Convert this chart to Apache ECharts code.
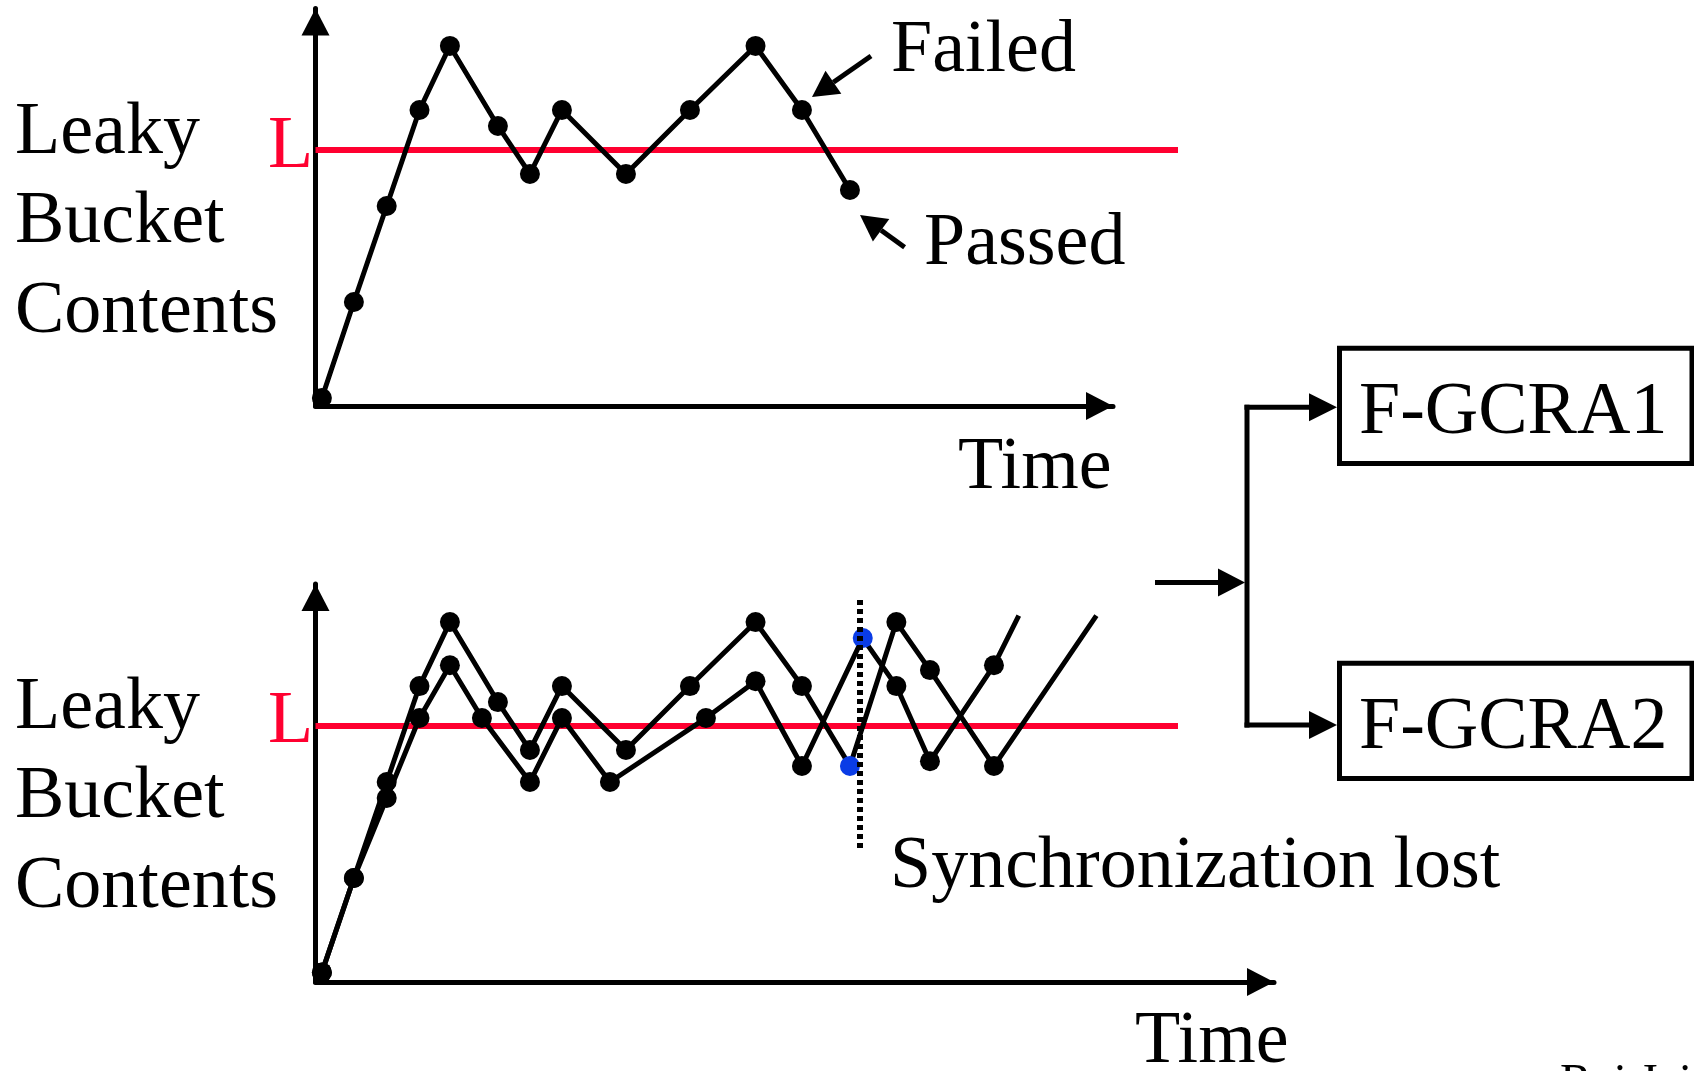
<!DOCTYPE html>
<html><head><meta charset="utf-8">
<script src="https://cdn.jsdelivr.net/npm/echarts@6/dist/echarts.min.js"></script>
<style>html,body{margin:0;padding:0;background:#fff}#c{width:1694px;height:1071px}</style>
</head><body><div id="c"></div>
<script>
// ---- Data (time units along x, bucket-content units along y) ----
const limitL = 8;                 // bucket limit L
const limitLineEnd = 53.9;        // red limit line extends to this time
// Top panel: single leaky bucket
const topTimes  = [0.4, 2.4, 4.45, 6.5, 8.4, 11.4, 13.4, 15.4, 19.4, 23.4, 27.5, 30.4, 33.4];
const topLevels = [0.25, 3.25, 6.25, 9.25, 11.25, 8.75, 7.25, 9.25, 7.25, 9.25, 11.25, 9.25, 6.75];
// Bottom panel: two buckets (F-GCRA1 / F-GCRA2)
const bucket1Times  = [0.4, 2.4, 4.45, 6.5, 8.4, 11.4, 13.4, 15.4, 19.4, 23.4, 27.5, 30.4, 33.4, 36.3, 38.4, 42.4, 48.8];
const bucket1Levels = [0.3, 3.25, 6.25, 9.25, 11.25, 8.75, 7.25, 9.25, 7.25, 9.25, 11.25, 9.25, 6.75, 11.25, 9.75, 6.75, 11.45];
const bucket2Times  = [0.4, 2.4, 4.45, 6.5, 8.4, 10.4, 13.4, 15.4, 18.4, 24.4, 27.5, 30.4, 34.2, 36.3, 38.4, 42.4, 43.95];
const bucket2Levels = [0.3, 3.25, 5.75, 8.25, 9.9, 8.25, 6.25, 8.25, 6.25, 8.25, 9.4, 6.75, 10.75, 9.25, 6.9, 9.9, 11.45];
const highlightIndex = 12;        // cell where synchronization is lost (blue)
const syncLostTime = 34.0;
const syncLostSpan = [4.19, 11.94];
const yLabelLines = ['Leaky', 'Bucket', 'Contents'];
const xAxisName = 'Time';
const boxLabels = ['F-GCRA1', 'F-GCRA2'];

// ---- Build ----
const BLACK = '#000', RED = '#ff0030', BLUE = '#0a3ce6';
const FONT = '"Liberation Serif","Times New Roman",serif';

function buildPoints(times, levels, opts) {
  opts = opts || {};
  return times.map((t, i) => {
    const item = { value: [t, levels[i]] };
    if (opts.blue === i) item.itemStyle = { color: BLUE };
    if (opts.noMarkerLast && i === times.length - 1) item.symbol = 'none';
    return item;
  });
}

function axisPair(xMax, yMax, gi, visible) {
  const common = {
    show: visible,
    axisLine: { show: true, lineStyle: { color: BLACK, width: 5 },
      symbol: ['none', 'triangle'], symbolSize: [28, 27], symbolOffset: [0, -13.5] },
    axisTick: { show: false }, axisLabel: { show: false }, splitLine: { show: false }
  };
  return {
    x: Object.assign({ type: 'value', gridIndex: gi, min: 0, max: xMax }, common),
    y: Object.assign({ type: 'value', gridIndex: gi, min: 0, max: yMax }, common)
  };
}
const a0 = axisPair(49.84, 12.42, 0, true);    // top panel
const a1 = axisPair(59.9, 12.44, 1, true);     // bottom panel
const a2 = axisPair(limitLineEnd, 12.42, 2, false); // top panel, limit line span (hidden axes)

const lineSeries = (xi, data, extra) => Object.assign({
  type: 'line', xAxisIndex: xi, yAxisIndex: xi, data: data,
  symbol: 'circle', symbolSize: 20, showAllSymbol: true,
  lineStyle: { color: BLACK, width: 5 }, itemStyle: { color: BLACK, borderWidth: 0 },
  z: 3
}, extra || {});

const limitSeries = (xi) => ({
  type: 'line', xAxisIndex: xi, yAxisIndex: xi,
  data: [[0, limitL], [limitLineEnd, limitL]], symbol: 'none',
  lineStyle: { color: RED, width: 6 }, z: 2
});

const BASE_SHIFT = 0.265; // canvas 'middle' to alphabetic baseline, in em
function txt(s, x, baseline, size, color) {
  return { type: 'text', x: x, y: baseline - BASE_SHIFT * size, z: 10,
    style: { text: s, font: size + 'px ' + FONT, fill: color || BLACK, align: 'left', verticalAlign: 'middle' } };
}
function seg(x1, y1, x2, y2) {
  return { type: 'line', z: 10, shape: { x1, y1, x2, y2 }, style: { stroke: BLACK, lineWidth: 5 } };
}
function tri(pts) {
  return { type: 'polygon', z: 10, shape: { points: pts }, style: { fill: BLACK } };
}

const graphics = [];
// y-axis titles
[[153.3, 241.7, 331.7], [728.3, 817.3, 906.7]].forEach(bs => {
  yLabelLines.forEach((s, i) => graphics.push(txt(s, 15, bs[i], 74)));
});
graphics.push(txt('L', 268, 166.7, 74, RED));
graphics.push(txt('L', 268, 741.7, 74, RED));
graphics.push(txt(xAxisName, 958, 488.3, 74));
graphics.push(txt(xAxisName, 1135, 1061.7, 74));
graphics.push(txt('Failed', 891, 71, 74));
graphics.push(txt('Passed', 924, 264.5, 74));
graphics.push(txt('Synchronization lost', 890, 886.7, 74));
// Failed / Passed pointers
graphics.push(seg(871, 56, 833.4, 82.3));
graphics.push(tri([[812, 97], [841.3, 93.8], [825.5, 70.8]]));
graphics.push(seg(904.6, 247.3, 881.1, 230.3));
graphics.push(tri([[860, 215], [889.3, 219], [872.9, 241.6]]));
// splitter diagram
graphics.push(seg(1155, 582.5, 1222, 582.5));
graphics.push(tri([[1245, 582.5], [1218, 568.5], [1218, 596.5]]));
graphics.push(seg(1247, 404.8, 1247, 727.5));
graphics.push(seg(1244.5, 407.3, 1312, 407.3));
graphics.push(tri([[1337, 407.3], [1309, 393.3], [1309, 421.3]]));
graphics.push(seg(1244.5, 725, 1312, 725));
graphics.push(tri([[1337, 725], [1309, 711], [1309, 739]]));
[[348.3, boxLabels[0], 433.3], [663.3, boxLabels[1], 748.3]].forEach(b => {
  graphics.push({ type: 'rect', z: 10, shape: { x: 1339.5, y: b[0], width: 352.5, height: 115.2 },
    style: { fill: 'none', stroke: BLACK, lineWidth: 5 } });
  graphics.push(txt(b[1], 1359, b[2], 74));
});
graphics.push(txt('Raj Jain', 1560, 1097, 48));

const option = {
  animation: false,
  backgroundColor: '#fff',
  grid: [
    { left: 315.5, top: 8.5, right: 581, bottom: 665, outerBoundsMode: 'none' },
    { left: 315.5, top: 584, right: 420, bottom: 89, outerBoundsMode: 'none' },
    { left: 315.5, top: 8.5, right: 516, bottom: 665, outerBoundsMode: 'none', show: false }
  ],
  xAxis: [a0.x, a1.x, a2.x],
  yAxis: [a0.y, a1.y, a2.y],
  series: [
    limitSeries(2),
    lineSeries(0, buildPoints(topTimes, topLevels)),
    limitSeries(1),
    lineSeries(1, buildPoints(bucket1Times, bucket1Levels, { blue: highlightIndex, noMarkerLast: true }), {
      markLine: { silent: true, symbol: ['none', 'none'], label: { show: false },
        lineStyle: { color: BLACK, width: 6, type: [5, 4] },
        data: [[{ coord: [syncLostTime, syncLostSpan[1]] }, { coord: [syncLostTime, syncLostSpan[0]] }]] }
    }),
    lineSeries(1, buildPoints(bucket2Times, bucket2Levels, { blue: highlightIndex, noMarkerLast: true }))
  ],
  graphic: graphics
};
const chart = echarts.init(document.getElementById('c'), null, { renderer: 'canvas' });
chart.setOption(option);
</script></body></html>
